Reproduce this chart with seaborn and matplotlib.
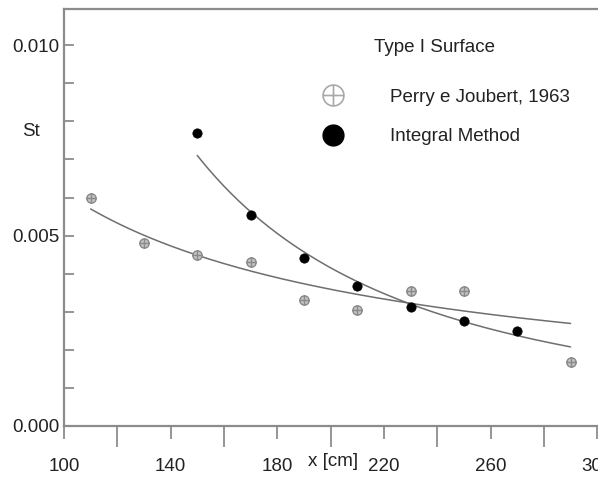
import numpy as np
import pandas as pd
import matplotlib
matplotlib.use("Agg")
import matplotlib.pyplot as plt
from matplotlib.path import Path
from matplotlib.lines import Line2D
from matplotlib.ticker import MultipleLocator, FixedLocator
import seaborn as sns

# ---- data ----
perry_x = [110, 130, 150, 170, 190, 210, 230, 250, 290]
perry_y = [0.0060, 0.0048, 0.0045, 0.0043, 0.0033, 0.00305, 0.00355, 0.00355, 0.00168]
integ_x = [150, 170, 190, 210, 230, 250, 270]
integ_y = [0.0077, 0.00555, 0.00442, 0.00368, 0.00313, 0.00276, 0.0025]
# trend curves as drawn in the picture
perry_curve_x = [110, 130, 150, 170, 190, 210, 230, 250, 270, 290]
perry_curve_y = [0.00570, 0.00498, 0.00446, 0.00411, 0.00374, 0.00345, 0.00327, 0.00301, 0.00283, 0.00268]
integ_curve_x = [150, 170, 190, 210, 230, 250, 270, 290]
integ_curve_y = [0.00718, 0.00555, 0.00459, 0.00376, 0.00318, 0.00275, 0.00244, 0.00204]
x_ticks = [100, 140, 180, 220, 260, 300]
x_minor = [120, 160, 200, 240, 280]
y_ticks = [0.000, 0.005, 0.010]
legend_title = "Type I Surface"
series_names = ["Perry e Joubert, 1963", "Integral Method"]

sns.set_style("white")
plt.rcParams["font.family"] = ["Liberation Sans", "DejaVu Sans"]

W, H = 598, 482
fig = plt.figure(figsize=(W / 100, H / 100), dpi=100)
ax = fig.add_axes([64 / W, 1 - 426 / H, (W - 64) / W, (426 - 9) / H])

# crossed-circle marker
circ = Path.unit_circle()
cross = Path([[-1, 0], [1, 0], [0, -1], [0, 1]],
             [Path.MOVETO, Path.LINETO, Path.MOVETO, Path.LINETO])
oplus = Path.make_compound_path(circ, cross)

line_color = "#6e6e6e"
text_color = "#222222"
FS = 13.5

def power_curve(xs, ys):
    b, a = np.polyfit(np.log(xs), np.log(ys), 1)
    gx = np.linspace(min(xs), max(xs), 200)
    return pd.DataFrame({"x": gx, "y": np.exp(a) * gx ** b})

sns.lineplot(data=power_curve(perry_curve_x, perry_curve_y), x="x", y="y", ax=ax,
             color=line_color, lw=1.1)
sns.lineplot(data=power_curve(integ_curve_x, integ_curve_y), x="x", y="y", ax=ax,
             color=line_color, lw=1.1)

dp = pd.DataFrame({"x": perry_x, "y": perry_y})
di = pd.DataFrame({"x": integ_x, "y": integ_y})
sns.scatterplot(data=dp, x="x", y="y", ax=ax, marker=oplus, s=45,
                facecolor="#c4c4c4", edgecolor="#8a8a8a", linewidth=1.0, zorder=3)
sns.scatterplot(data=di, x="x", y="y", ax=ax, marker="o", s=45,
                color="black", edgecolor="black", linewidth=0.5, zorder=4)

ax.set_xlim(100, 300.3)
ax.set_ylim(0, 0.01095)

spine_c = "#8c8c8c"
for s in ["left", "top", "bottom"]:
    ax.spines[s].set_visible(True)
    ax.spines[s].set_color(spine_c)
    ax.spines[s].set_linewidth(1.6)
ax.spines["right"].set_visible(False)

ax.xaxis.set_major_locator(FixedLocator(x_ticks))
ax.xaxis.set_minor_locator(FixedLocator(x_minor))
ax.set_xticklabels([str(v) for v in x_ticks])
ax.yaxis.set_major_locator(FixedLocator(y_ticks))
ax.yaxis.set_minor_locator(MultipleLocator(0.001))
ax.set_yticklabels([f"{v:.3f}" for v in y_ticks])

ax.tick_params(axis="x", which="major", direction="out", length=9, width=1.3,
               color=spine_c, pad=14, labelsize=FS, labelcolor=text_color, bottom=True)
ax.tick_params(axis="x", which="minor", direction="out", length=15, width=1.3,
               color=spine_c, bottom=True)
ax.tick_params(axis="y", which="both", direction="in", length=7.5, width=1.3,
               color=spine_c, pad=3, labelsize=FS, labelcolor=text_color, left=True)

ax.set_xlabel("x [cm]", fontsize=FS, color=text_color)
ax.xaxis.set_label_coords((333 - 64) / 534, (426 - 462) / 417)
ax.xaxis.label.set_va("center")
ax.set_ylabel("St", rotation=0, fontsize=FS, color=text_color, va="center", ha="center")
ax.yaxis.set_label_coords((31 - 64) / 534, (426 - 132) / 417)

# legend
handles = [
    Line2D([], [], ls="none", marker=oplus, markersize=15, markerfacecolor="white",
           markeredgecolor="#a8a8a8", markeredgewidth=1.2),
    Line2D([], [], ls="none", marker="o", markersize=15, markerfacecolor="black",
           markeredgecolor="black"),
]
fs_px = FS * 100 / 72
hl = 2.0
anchor_x = 333 - hl * fs_px / 2
leg = fig.legend(handles, series_names, frameon=False, loc="center left",
                 bbox_to_anchor=(anchor_x / W, 1 - 117 / H),
                 fontsize=FS, handlelength=hl,
                 handletextpad=(390 - anchor_x - hl * fs_px) / fs_px,
                 labelspacing=1.2, borderpad=0, borderaxespad=0)
for t in leg.get_texts():
    t.set_color(text_color)
fig.text(435 / W, 1 - 47 / H, legend_title, fontsize=FS, color=text_color,
         ha="center", va="center")

fig.savefig("out.png", dpi=100)
